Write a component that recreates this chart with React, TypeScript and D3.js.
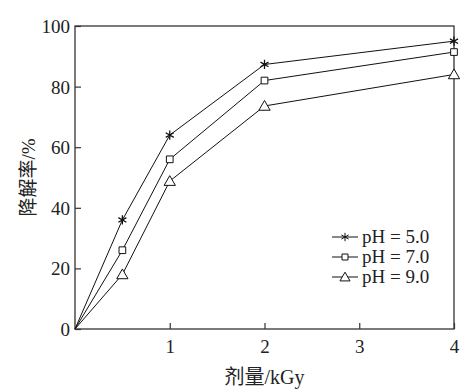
import React, { useRef, useEffect } from 'react';
import * as d3 from 'd3';

const doses = [0, 0.5, 1, 2, 4];
const ph5 = [0, 36, 64, 87.3, 95];
const ph7 = [0, 26, 56, 82, 91.4];
const ph9 = [0, 18, 48.8, 73.6, 84];
const seriesNames = ['pH = 5.0', 'pH = 7.0', 'pH = 9.0'];
const xTicks = [1, 2, 3, 4];
const yTicks = [0, 20, 40, 60, 80, 100];

const FONT = "'Liberation Serif', 'Times New Roman', 'Noto Sans CJK SC', serif";

const App = () => {
  const svgRef = useRef<SVGSVGElement | null>(null);

  useEffect(() => {
    const svg = d3.select(svgRef.current);
    svg.selectAll('*').remove();

    const left = 75, right = 454, top = 26, bottom = 329;

    const x = d3.scaleLinear().domain([0, 4]).range([left, right]);
    const y = d3.scaleLinear().domain([0, 100]).range([bottom, top]);

    // frame
    svg.append('rect')
      .attr('x', left).attr('y', top)
      .attr('width', right - left).attr('height', bottom - top)
      .attr('fill', 'none').attr('stroke', '#333').attr('stroke-width', 1.3);

    // y axis, ticks pointing inward
    const yAxis = svg.append('g')
      .attr('transform', `translate(${left},0)`)
      .call(d3.axisRight(y).tickValues(yTicks).tickSize(6).tickFormat(d3.format('d')));
    yAxis.select('.domain').remove();
    yAxis.selectAll('line').attr('stroke', '#333').attr('stroke-width', 1.2);
    yAxis.selectAll('text')
      .attr('x', -5).attr('dy', '0.34em')
      .attr('text-anchor', 'end')
      .attr('font-family', FONT).attr('font-size', 19).attr('fill', '#222');

    // x axis
    const xAxis = svg.append('g')
      .attr('transform', `translate(0,${bottom})`)
      .call(d3.axisTop(x).tickValues(xTicks).tickSize(6).tickFormat(d3.format('d')));
    xAxis.select('.domain').remove();
    xAxis.selectAll('line').attr('stroke', '#333').attr('stroke-width', 1.2);
    xAxis.selectAll('text')
      .attr('y', 24).attr('dy', 0)
      .attr('font-family', FONT).attr('font-size', 19).attr('fill', '#222');

    // axis labels
    svg.append('text')
      .attr('x', (left + right) / 2).attr('y', 384)
      .attr('text-anchor', 'middle')
      .attr('font-family', FONT).attr('font-size', 20).attr('fill', '#222')
      .text('剂量/kGy');

    svg.append('text')
      .attr('transform', `translate(35,${(top + bottom) / 2}) rotate(-90)`)
      .attr('text-anchor', 'middle')
      .attr('font-family', FONT).attr('font-size', 19).attr('fill', '#222')
      .text('降解率/%');

    const all = [ph5, ph7, ph9];
    const shapes = [d3.symbolAsterisk, d3.symbolSquare, d3.symbolTriangle];
    const sizes = [60, 45, 55];

    const line = d3.line<number>()
      .x((_, i) => x(doses[i]))
      .y(d => y(d));

    all.forEach((vals, s) => {
      svg.append('path')
        .attr('d', line(vals))
        .attr('fill', 'none').attr('stroke', '#111').attr('stroke-width', 1);

      const sym = d3.symbol().type(shapes[s]).size(sizes[s]);
      svg.selectAll(`.m${s}`)
        .data(vals.slice(1))
        .enter().append('path')
        .attr('class', `m${s}`)
        .attr('transform', (d, i) => `translate(${x(doses[i + 1])},${y(d) + (s === 2 ? 1 : 0)})`)
        .attr('d', sym())
        .attr('fill', s === 0 ? '#111' : '#fff')
        .attr('stroke', '#111').attr('stroke-width', s === 0 ? 1.3 : 1);
    });

    // legend
    const leg = svg.append('g');
    seriesNames.forEach((name, s) => {
      const ly = 237 + s * 20;
      leg.append('line')
        .attr('x1', 332).attr('x2', 358).attr('y1', ly).attr('y2', ly)
        .attr('stroke', '#111').attr('stroke-width', 1);
      leg.append('path')
        .attr('transform', `translate(345,${ly + (s === 2 ? 1 : 0)})`)
        .attr('d', d3.symbol().type(shapes[s]).size(sizes[s] * 0.8)())
        .attr('fill', s === 0 ? '#111' : '#fff')
        .attr('stroke', '#111').attr('stroke-width', 1);
      leg.append('text')
        .attr('x', 362).attr('y', ly).attr('dy', '0.34em')
        .attr('font-family', FONT).attr('font-size', 19).attr('fill', '#222')
        .text(name);
    });
  }, []);

  return (
    <svg ref={svgRef} width={470} height={392}
      style={{ position: 'absolute', left: 0, top: 0, background: '#fff' }} />
  );
};

export default App;
